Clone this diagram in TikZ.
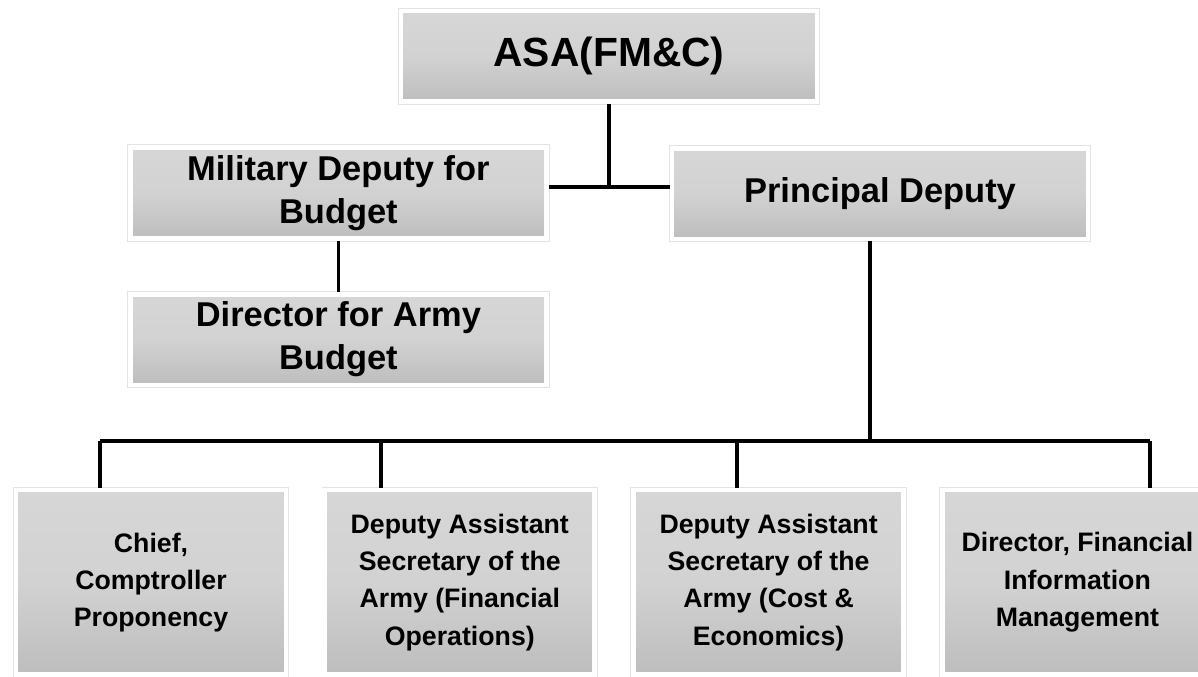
\documentclass[tikz,border=0pt]{standalone}
\usepackage{fontspec}
\setmainfont{Liberation Sans}
\usepackage{xcolor}
\usepackage{tikz}
\usetikzlibrary{positioning, shadows, calc}
\definecolor{boxgray}{HTML}{D2D2D2}
\definecolor{boxedge}{HTML}{BDBDBD}

\begin{document}
\begin{tikzpicture}[
  node distance=0.85cm,
  orgbox/.style={rectangle, draw=white, line width=1.2mm, top color=boxgray!90!white, bottom color=boxedge,
    middle color=boxgray, align=center, font=\bfseries, inner sep=2pt,
    preaction={draw=gray!22, line width=1.6mm},
    drop shadow={opacity=0.4, fill=gray, shadow xshift=1.2pt, shadow yshift=-1.4pt}},
  topbox/.style={orgbox, minimum width=10.4cm, minimum height=2.27cm},
  staffbox/.style={orgbox, minimum width=6.75cm, minimum height=4.62cm, font=\bfseries\fontsize{19}{26.5}\selectfont},
  link/.style={line width=2.6pt, black}
]

  % Fix the page to the reference proportions
  \useasboundingbox (0,0) rectangle (29.95,-16.925);

  % Upper rows of the chart
  \node[topbox, font=\bfseries\fontsize{29}{34}\selectfont] (asa) at (15.225,-1.41) {ASA(FM\&C)};
  \node[topbox, font=\bfseries\fontsize{24.5}{30.6}\selectfont] (mdb) at (8.46,-4.825) {Military Deputy for\\Budget};
  \node[topbox, font=\bfseries\fontsize{24.5}{30.6}\selectfont, below=1.275cm of mdb] (dab) {Director for Army\\Budget};
  \node[topbox, font=\bfseries\fontsize{24.5}{30.6}\selectfont] (pd) at (22.0,-4.84) {Principal Deputy};

  % Bottom row, placed one after the other
  \node[staffbox] (ccp) at (3.775,-14.56) {Chief,\\Comptroller\\Proponency};
  \node[staffbox, right=of ccp] (dfo) {Deputy Assistant\\Secretary of the\\Army (Financial\\Operations)};
  \node[staffbox, right=of dfo] (dce) {Deputy Assistant\\Secretary of the\\Army (Cost \&\\Economics)};
  \node[staffbox, right=of dce] (dfi) {Director, Financial\\Information\\Management};

  % Bus coordinates over the bottom row
  \coordinate (bus) at (21.75,-11.025);
  \coordinate (d1) at (2.5,-11.025);
  \coordinate (d2) at (9.525,-11.025);
  \coordinate (d3) at (18.425,-11.025);
  \coordinate (d4) at (28.75,-11.025);

  % Connectors
  \draw[link] ([yshift=0.15cm]mdb.east) -- ([yshift=0.15cm]mdb.east -| pd.west);
  \draw[link] (asa.south) -- ([yshift=0.15cm]asa.south |- mdb.east);
  \draw[link] (mdb) -- (dab);
  \draw[link] (pd.south -| bus) -- (bus);
  \draw[link] (d1) -- (d4);
  \draw[link] (d1) -- (d1 |- ccp.north);
  \draw[link] (d2) -- (d2 |- dfo.north);
  \draw[link] (d3) -- (d3 |- dce.north);
  \draw[link] (d4) -- (d4 |- dfi.north);

\end{tikzpicture}
\end{document}
